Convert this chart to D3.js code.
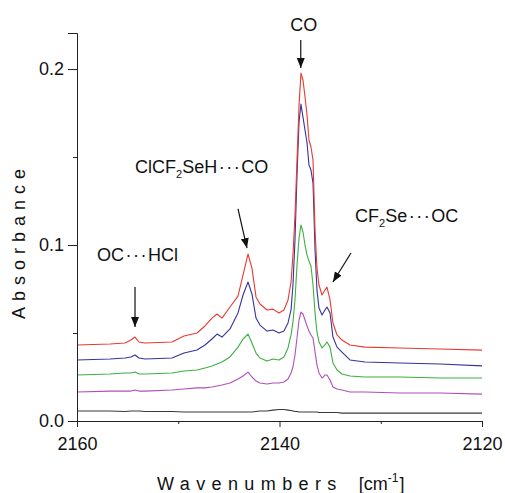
<!DOCTYPE html>
<html>
<head>
<meta charset="utf-8">
<script src="https://cdn.jsdelivr.net/npm/d3@7"></script>
<style>
  html, body { margin: 0; padding: 0; background: #fff; }
  svg { display: block; font-family: "Liberation Sans", Arial, sans-serif; }
</style>
</head>
<body>
<svg id="chart" width="505" height="493"></svg>
<script>
// --- data ---
const wavenumbers = [2160.00, 2156.74, 2155.26, 2154.67, 2154.27, 2153.88, 2153.28, 2150.62, 2149.43, 2148.15,
  2147.36, 2146.67, 2146.17, 2145.68, 2144.89, 2144.10, 2143.60, 2143.11, 2142.72, 2142.32,
  2141.93, 2141.23, 2140.64, 2140.05, 2139.56, 2139.16, 2138.86, 2138.67, 2138.47, 2138.27,
  2138.07, 2137.88, 2137.68, 2137.48, 2137.28, 2137.09, 2136.89, 2136.69, 2136.49, 2136.30,
  2136.10, 2135.80, 2135.51, 2135.31, 2135.01, 2134.72, 2134.32, 2133.83, 2133.04, 2131.56,
  2128.10, 2124.15, 2120.00];

const redSpectrum = [0.0432, 0.0438, 0.0443, 0.0460, 0.0477, 0.0449, 0.0443, 0.0449, 0.0483, 0.0500,
  0.0540, 0.0585, 0.0608, 0.0585, 0.0648, 0.0710, 0.0830, 0.0949, 0.0869, 0.0705,
  0.0665, 0.0631, 0.0636, 0.0614, 0.0631, 0.0688, 0.0790, 0.0943, 0.1170, 0.1483,
  0.1795, 0.1977, 0.1938, 0.1841, 0.1739, 0.1597, 0.1557, 0.1483, 0.1085, 0.0869,
  0.0773, 0.0716, 0.0744, 0.0761, 0.0688, 0.0557, 0.0489, 0.0460, 0.0432, 0.0420,
  0.0415, 0.0409, 0.0403];

const blueSpectrum = [0.0347, 0.0352, 0.0358, 0.0364, 0.0375, 0.0358, 0.0352, 0.0358, 0.0386, 0.0403,
  0.0432, 0.0466, 0.0494, 0.0477, 0.0523, 0.0614, 0.0716, 0.0790, 0.0722, 0.0585,
  0.0545, 0.0511, 0.0517, 0.0500, 0.0511, 0.0557, 0.0631, 0.0773, 0.1028, 0.1398,
  0.1699, 0.1801, 0.1727, 0.1653, 0.1580, 0.1455, 0.1426, 0.1352, 0.0972, 0.0744,
  0.0642, 0.0602, 0.0631, 0.0648, 0.0614, 0.0477, 0.0420, 0.0392, 0.0347, 0.0335,
  0.0330, 0.0324, 0.0313];

const greenSpectrum = [0.0261, 0.0267, 0.0273, 0.0273, 0.0278, 0.0267, 0.0267, 0.0273, 0.0284, 0.0290,
  0.0301, 0.0313, 0.0324, 0.0335, 0.0364, 0.0420, 0.0466, 0.0494, 0.0443, 0.0386,
  0.0358, 0.0341, 0.0352, 0.0347, 0.0364, 0.0415, 0.0489, 0.0563, 0.0688, 0.0886,
  0.1040, 0.1114, 0.1074, 0.1000, 0.0943, 0.0909, 0.0881, 0.0773, 0.0614, 0.0506,
  0.0449, 0.0415, 0.0432, 0.0449, 0.0420, 0.0330, 0.0290, 0.0267, 0.0256, 0.0250,
  0.0250, 0.0244, 0.0244];

const purpleSpectrum = [0.0165, 0.0170, 0.0170, 0.0170, 0.0176, 0.0170, 0.0170, 0.0176, 0.0182, 0.0188,
  0.0188, 0.0193, 0.0199, 0.0205, 0.0216, 0.0239, 0.0256, 0.0278, 0.0250, 0.0227,
  0.0216, 0.0210, 0.0216, 0.0216, 0.0222, 0.0239, 0.0273, 0.0307, 0.0375, 0.0472,
  0.0574, 0.0619, 0.0608, 0.0574, 0.0540, 0.0511, 0.0489, 0.0472, 0.0392, 0.0318,
  0.0273, 0.0244, 0.0261, 0.0261, 0.0233, 0.0193, 0.0182, 0.0176, 0.0165, 0.0165,
  0.0159, 0.0159, 0.0153];

const blackSpectrum = [0.0057, 0.0057, 0.0054, 0.0057, 0.0057, 0.0057, 0.0054, 0.0054, 0.0051, 0.0051,
  0.0051, 0.0051, 0.0051, 0.0051, 0.0051, 0.0051, 0.0051, 0.0051, 0.0051, 0.0054,
  0.0057, 0.0057, 0.0062, 0.0065, 0.0065, 0.0062, 0.0060, 0.0057, 0.0054, 0.0054,
  0.0051, 0.0051, 0.0051, 0.0051, 0.0051, 0.0051, 0.0051, 0.0051, 0.0051, 0.0051,
  0.0048, 0.0048, 0.0048, 0.0048, 0.0048, 0.0048, 0.0048, 0.0045, 0.0045, 0.0045,
  0.0045, 0.0045, 0.0045];

const seriesColors = ["#3a3a3a", "#b04fb8", "#3cb040", "#34349c", "#e83a30"];

const xMajorTicks = [2160, 2140, 2120];
const xMinorTicks = [2150, 2130];
const yMajorTicks = [0, 0.1, 0.2];
const yMinorTicks = [0.05, 0.15];
const yTickLabels = ["0.0", "0.1", "0.2"];

// annotations: [x wavenumber, y absorbance]
const annotationArrows = [
  { from: [2137.9, 0.2165], to: [2137.9, 0.2006] },
  { from: [2144.10, 0.1205], to: [2143.21, 0.0983] },
  { from: [2132.94, 0.0955], to: [2134.72, 0.0790] },
  { from: [2154.27, 0.0761], to: [2154.27, 0.0534] }
];

// --- layout ---
const svg = d3.select("#chart");
const x = d3.scaleLinear().domain([2160, 2120]).range([77, 482]);
const y = d3.scaleLinear().domain([0, 0.2205]).range([421, 33]);

const defs = svg.append("defs");
defs.append("marker")
  .attr("id", "arrowhead")
  .attr("viewBox", "0 0 10 10")
  .attr("refX", 10).attr("refY", 5)
  .attr("markerWidth", 10).attr("markerHeight", 10)
  .attr("markerUnits", "userSpaceOnUse")
  .attr("orient", "auto")
  .append("path")
  .attr("d", "M0,1 L10,5 L0,9 Z")
  .attr("fill", "#111");

// --- spectra ---
const spectra = [blackSpectrum, purpleSpectrum, greenSpectrum, blueSpectrum, redSpectrum];
const line = d3.line()
  .x(d => x(d[0]))
  .y(d => y(d[1]));

svg.append("g").selectAll("path")
  .data(spectra)
  .join("path")
  .attr("d", s => line(wavenumbers.map((w, i) => [w, s[i]])))
  .attr("fill", "none")
  .attr("stroke", (s, i) => seriesColors[i])
  .attr("stroke-width", 1.1)
  .attr("stroke-linejoin", "round");

// --- axes ---
svg.append("g").attr("transform", `translate(0,${y(0)})`)
  .call(d3.axisBottom(x).tickValues(xMajorTicks).tickSize(6).tickPadding(10).tickFormat(d3.format("d")));
svg.append("g").attr("transform", `translate(0,${y(0)})`)
  .call(d3.axisBottom(x).tickValues(xMinorTicks).tickSize(3).tickFormat(""))
  .select(".domain").remove();

svg.append("g").attr("transform", `translate(${x(2160)},0)`)
  .call(d3.axisLeft(y).tickValues(yMajorTicks).tickSize(9).tickPadding(4).tickFormat((d, i) => yTickLabels[i]));
svg.append("g").attr("transform", `translate(${x(2160)},0)`)
  .call(d3.axisLeft(y).tickValues(yMinorTicks).tickSize(4).tickFormat(""))
  .select(".domain").remove();

svg.selectAll(".domain").attr("stroke", "#222").attr("stroke-width", 1);
svg.selectAll(".tick line").attr("stroke", "#222");
svg.selectAll(".tick text")
  .attr("font-family", "Liberation Sans, Arial, sans-serif")
  .attr("font-size", 18)
  .attr("fill", "#111");

// axis titles
const xTitle = svg.append("text")
  .attr("x", 157).attr("y", 490)
  .attr("font-size", 18).attr("fill", "#111");
xTitle.append("tspan").attr("letter-spacing", "6.4px").text("Wavenumbers");
xTitle.append("tspan").attr("dx", 16).text("[cm");
xTitle.append("tspan").attr("font-size", 12).attr("dy", -8).text("-1");
xTitle.append("tspan").attr("dy", 8).attr("dx", 1).text("]");

svg.append("text")
  .attr("transform", "translate(25,241) rotate(-90)")
  .attr("text-anchor", "middle")
  .attr("font-size", 18).attr("fill", "#111")
  .attr("letter-spacing", "6px")
  .text("Absorbance");

// --- annotations ---
svg.append("g").selectAll("line")
  .data(annotationArrows)
  .join("line")
  .attr("x1", d => x(d.from[0])).attr("y1", d => y(d.from[1]))
  .attr("x2", d => x(d.to[0])).attr("y2", d => y(d.to[1]))
  .attr("stroke", "#111").attr("stroke-width", 1.2)
  .attr("marker-end", "url(#arrowhead)");

const label = (wx, ay, anchor) => svg.append("text")
  .attr("x", x(wx)).attr("y", y(ay))
  .attr("text-anchor", anchor)
  .attr("font-size", 18).attr("fill", "#111");

const dots = (t) => t.append("tspan").attr("dx", 1.5).attr("letter-spacing", "1.5px").text("\u00B7\u00B7\u00B7");

label(2137.6, 0.2216, "middle").text("CO");

const l1 = label(2154.27, 0.1409, "start");
l1.append("tspan").text("ClCF");
l1.append("tspan").attr("font-size", 11).attr("dy", 5).text("2");
l1.append("tspan").attr("dy", -5).text("SeH");
dots(l1);
l1.append("tspan").text("CO");

const l2 = label(2132.54, 0.1131, "start");
l2.append("tspan").text("CF");
l2.append("tspan").attr("font-size", 11).attr("dy", 5).text("2");
l2.append("tspan").attr("dy", -5).text("Se");
dots(l2);
l2.append("tspan").text("OC");

const l3 = label(2158.02, 0.0909, "start");
l3.append("tspan").text("OC");
dots(l3);
l3.append("tspan").text("HCl");
</script>
</body>
</html>
